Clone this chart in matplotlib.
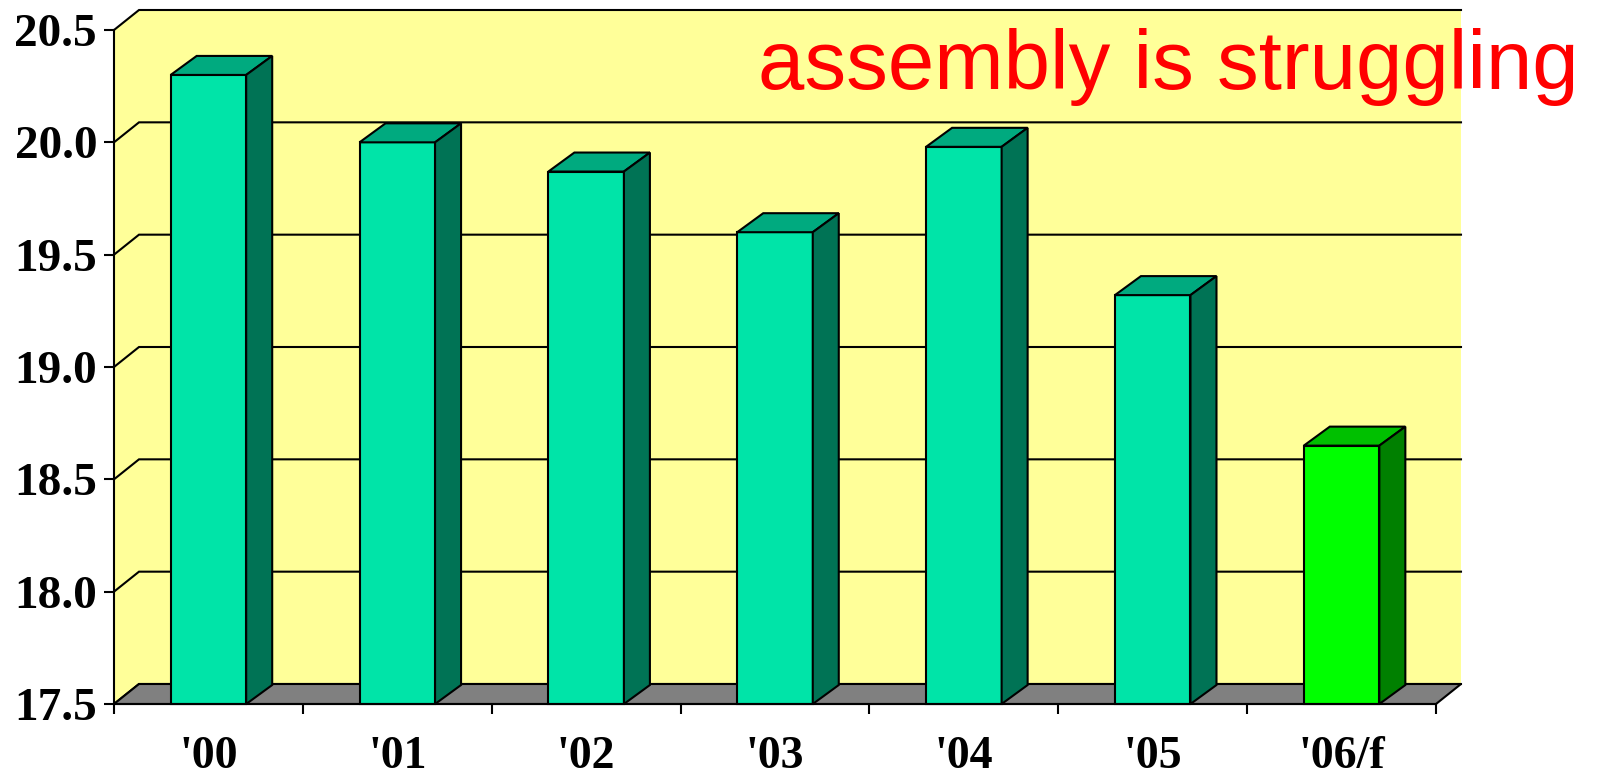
import matplotlib
matplotlib.use('Agg')
import matplotlib.pyplot as plt
from matplotlib.patches import Polygon

# ---- data ----
categories = ["'00", "'01", "'02", "'03", "'04", "'05", "'06/f"]
values = [20.3, 20.0, 19.87, 19.6, 19.98, 19.32, 18.65]
y_ticks = [17.5, 18.0, 18.5, 19.0, 19.5, 20.0, 20.5]
y_tick_labels = ['17.5', '18.0', '18.5', '19.0', '19.5', '20.0', '20.5']
title = 'assembly is struggling'

front_colors = ['#00E4A8'] * 6 + ['#00FF00']
top_colors = ['#00AA7F'] * 6 + ['#00C000']
side_colors = ['#007355'] * 6 + ['#008000']

WALL = '#FFFF99'
FLOOR = '#808080'
LW = 1.5

W, H, DPI = 1600, 775, 100
fig = plt.figure(figsize=(W / DPI, H / DPI), dpi=DPI)
fig.patch.set_facecolor('white')
ax = fig.add_axes([114 / W, 71 / H, 1322 / W, 674 / H])
ymin, ymax = y_ticks[0], y_ticks[-1]
n = len(categories)
ax.set_xlim(0, n)
ax.set_ylim(ymin, ymax)
ax.set_facecolor('none')


def depth(px, py):
    p = ax.transData.transform([(0, ymin)])[0]
    q = ax.transData.inverted().transform([(p[0] + px, p[1] + py)])[0]
    return q[0], q[1] - ymin


ddx, ddy = depth(25, 20)     # wall depth
bdx, bdy = depth(26, 19)     # bar depth

# walls
ax.add_patch(Polygon([(0, ymin), (ddx, ymin + ddy), (ddx, ymax + ddy), (0, ymax)],
                     closed=True, facecolor=WALL, edgecolor='none', zorder=0, clip_on=False))
ax.add_patch(Polygon([(ddx, ymin + ddy), (n + ddx, ymin + ddy), (n + ddx, ymax + ddy), (ddx, ymax + ddy)],
                     closed=True, facecolor=WALL, edgecolor='none', zorder=0, clip_on=False))
# gridlines on back + left wall
for t in y_ticks:
    ax.plot([0, ddx, n + ddx], [t, t + ddy, t + ddy], color='black', lw=LW,
            zorder=1, clip_on=False, solid_joinstyle='miter')
# floor
ax.add_patch(Polygon([(0, ymin), (n, ymin), (n + ddx, ymin + ddy), (ddx, ymin + ddy)],
                     closed=True, facecolor=FLOOR, edgecolor='black', lw=LW, zorder=1.5, clip_on=False))

# bars
bw = 0.4
xs = [i + 0.5 for i in range(n)]
heights = [v - ymin for v in values]
ax.bar(xs, heights, bottom=ymin, width=bw, color=front_colors, edgecolor='black',
       linewidth=LW, zorder=3, clip_on=False)
for x, v, tc, sc in zip(xs, values, top_colors, side_colors):
    x0, x1 = x - bw / 2, x + bw / 2
    ax.add_patch(Polygon([(x0, v), (x1, v), (x1 + bdx, v + bdy), (x0 + bdx, v + bdy)],
                         closed=True, facecolor=tc, edgecolor='black', lw=LW, zorder=3,
                         clip_on=False, joinstyle='miter'))
    ax.add_patch(Polygon([(x1, ymin), (x1 + bdx, ymin + bdy), (x1 + bdx, v + bdy), (x1, v)],
                         closed=True, facecolor=sc, edgecolor='black', lw=LW, zorder=3,
                         clip_on=False, joinstyle='miter'))

# spines & ticks
for s in ['top', 'right']:
    ax.spines[s].set_visible(False)
for s in ['left', 'bottom']:
    ax.spines[s].set_linewidth(LW)
    ax.spines[s].set_zorder(4)

ax.set_yticks(y_ticks)
ax.set_yticklabels(y_tick_labels, fontfamily='Liberation Serif', fontweight='bold', fontsize=34)
ax.tick_params(axis='y', direction='out', length=7.2, width=LW, pad=5)

ax.set_xticks(range(n + 1), minor=True)
ax.set_xticks(xs)
ax.set_xticklabels(categories, fontfamily='Liberation Serif', fontweight='bold', fontsize=33)
ax.tick_params(axis='x', which='major', length=0, pad=23)
ax.tick_params(axis='x', which='minor', direction='out', length=7.2, width=LW)

fig.text(758 / W, 1 - 89 / H, title, color='#FF0000', fontsize=60,
         fontfamily='Liberation Sans', ha='left', va='baseline', zorder=10)

fig.savefig('out.png', dpi=DPI)
